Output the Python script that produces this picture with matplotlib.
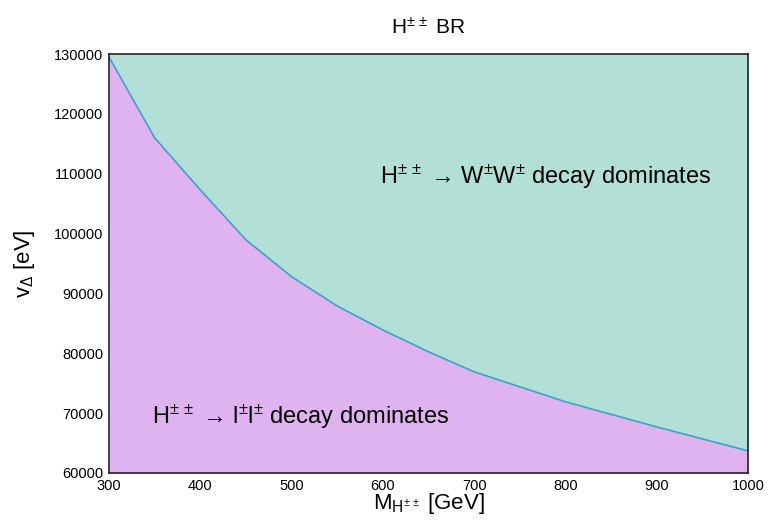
import matplotlib
matplotlib.use("Agg")
import matplotlib.pyplot as plt

plt.rcParams['font.family'] = ['Liberation Sans', 'DejaVu Sans']
plt.rcParams['mathtext.fontset'] = 'custom'
plt.rcParams['mathtext.rm'] = 'Liberation Sans'
plt.rcParams['mathtext.it'] = 'Liberation Sans'
plt.rcParams['mathtext.bf'] = 'Liberation Sans:bold'

mass = [300, 350, 400, 450, 500, 550, 600, 650, 700, 800, 900, 1000]
vev = [129500, 116000, 107300, 98950, 92800, 87900, 83900, 80250, 76900, 71900, 67700, 63700]

xmin, xmax = 300, 1000
ymin, ymax = 60000, 130000

fig = plt.figure(figsize=(7.68, 5.23), dpi=100)
ax = fig.add_axes([109/768, 1-473/523, (748-109)/768, (473-54)/523])

ax.fill_between(mass, vev, ymin, color='#dfb3f0', lw=0)
ax.fill_between(mass, vev, ymax, color='#b2e0d6', lw=0)
ax.plot(mass, vev, color='#3aa3c6', lw=1.2)

ax.set_xlim(xmin, xmax)
ax.set_ylim(ymin, ymax)
ax.set_xticks([300, 400, 500, 600, 700, 800, 900, 1000])
ax.set_yticks([60000, 70000, 80000, 90000, 100000, 110000, 120000, 130000])
ax.tick_params(length=0, labelsize=10.5, pad=4)
for s in ax.spines.values():
    s.set_linewidth(1.2)
    s.set_color('#222222')

ax.set_title(r'H$^{\pm\,\pm}$ BR', fontsize=15, pad=14)
ax.set_xlabel(r'M$_{\mathregular{H^{\pm\,\pm}}}$ [GeV]', fontsize=16, labelpad=-1)
ax.set_ylabel(r'v$_\Delta$ [eV]', fontsize=16, labelpad=12)

ax.text(778, 108280, r'H$^{\pm\,\pm}$ → W$^{\pm}$W$^{\pm}$ decay dominates',
        fontsize=17, ha='center', va='baseline')
ax.text(510, 68140, r'H$^{\pm\,\pm}$ → l$^{\pm}$l$^{\pm}$ decay dominates',
        fontsize=17, ha='center', va='baseline')

fig.savefig('out.png', dpi=100)
